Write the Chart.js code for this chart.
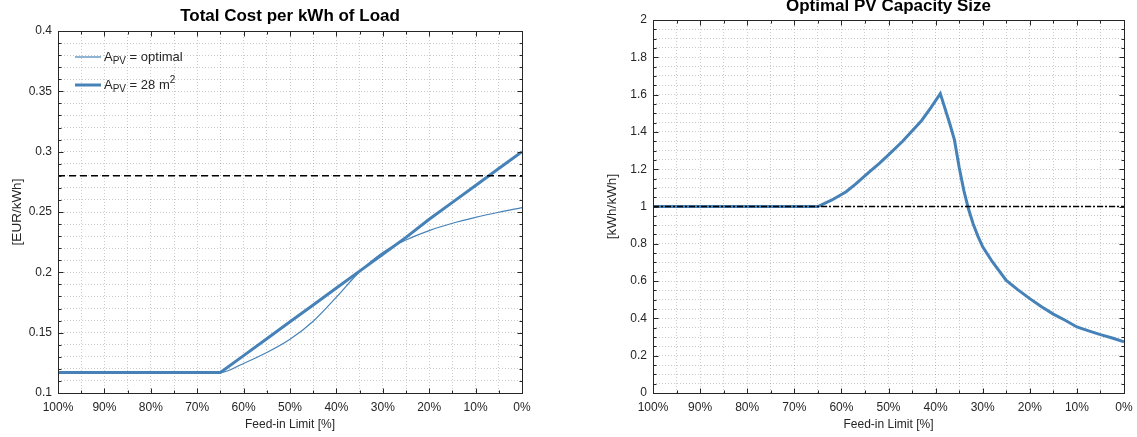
<!DOCTYPE html>
<html>
<head>
<meta charset="utf-8">
<script src="https://cdn.jsdelivr.net/npm/chart.js@4.4.1/dist/chart.umd.min.js"></script>
<style>
    html, body { margin: 0; padding: 0; background: #ffffff; }
    #left { position: absolute; left: 0; top: 0; }
    #right { position: absolute; left: 568px; top: 0; }
</style>
</head>
<body>
<canvas id="left" width="568" height="437"></canvas>
<canvas id="right" width="569" height="437"></canvas>
<script>
// feed-in limit in percent
const feedIn = [100, 95, 90, 85, 80, 75, 70, 65, 60, 55, 50, 45, 40, 35, 30, 25, 20, 15, 10, 5, 0]
const costOptimal = [0.117, 0.117, 0.117, 0.117, 0.117, 0.117, 0.117, 0.117, 0.1245, 0.1335, 0.1445, 0.1595, 0.1795, 0.2005, 0.2165, 0.2268, 0.2346, 0.2407, 0.2456, 0.2498, 0.2536]
const cost28 = [0.117, 0.117, 0.117, 0.117, 0.117, 0.117, 0.117, 0.117, 0.131, 0.145, 0.159, 0.173, 0.187, 0.201, 0.215, 0.229, 0.244, 0.258, 0.272, 0.286, 0.300]
const costLimit = 0.28

const ratioFeedIn = [100, 95, 90, 85, 80, 75, 70, 65, 62, 59, 57, 54, 52, 50, 47, 45, 43, 41, 39, 37, 36, 35, 34, 33, 32, 31, 30, 28, 25, 22.5, 20, 17.5, 15, 12.5, 10, 7.5, 5, 2.5, 0]
const ratioOptimal = [1, 1, 1, 1, 1, 1, 1, 1, 1.035, 1.079, 1.12, 1.187, 1.23, 1.277, 1.35, 1.405, 1.46, 1.53, 1.605, 1.445, 1.357, 1.21, 1.085, 0.985, 0.905, 0.84, 0.784, 0.705, 0.604, 0.553, 0.506, 0.463, 0.423, 0.39, 0.354, 0.333, 0.313, 0.295, 0.275]
const ratioRef = 1

const xMajorTicks = [100, 90, 80, 70, 60, 50, 40, 30, 20, 10, 0]
const costMajorTicks = [0.1, 0.15, 0.2, 0.25, 0.3, 0.35, 0.4]
const ratioMajorTicks = [0, 0.2, 0.4, 0.6, 0.8, 1, 1.2, 1.4, 1.6, 1.8, 2]

const lineBlue = "#4682b8"
const textColor = "#262626"
const fontFamily = "'Liberation Sans', Arial, Helvetica, sans-serif"

function isMajor(list, v) {
    return list.some((m) => Math.abs(m - v) < 1e-6)
}

function pairs(xs, ys) {
    return xs.map((x, i) => ({ x: x, y: ys[i] }))
}

// box round the plot area and inward tick marks on all four sides
const axesBox = {
    id: "axesBox",
    afterDatasetsDraw(chart, args, opts) {
        const { ctx, chartArea: a, scales } = chart
        const L = Math.round(a.left) + 0.5
        const R = Math.round(a.right) + 0.5
        const T = Math.round(a.top) + 0.5
        const B = Math.round(a.bottom) + 0.5
        ctx.save()
        ctx.strokeStyle = textColor
        ctx.lineWidth = 1
        ctx.setLineDash([])
        ctx.beginPath()
        scales.x.ticks.forEach((t) => {
            const px = Math.round(scales.x.getPixelForValue(t.value)) + 0.5
            const len = isMajor(xMajorTicks, t.value) ? 5 : 3
            ctx.moveTo(px, B); ctx.lineTo(px, B - len)
            ctx.moveTo(px, T); ctx.lineTo(px, T + len)
        })
        scales.y.ticks.forEach((t) => {
            const py = Math.round(scales.y.getPixelForValue(t.value)) + 0.5
            const len = isMajor(opts.yMajor, t.value) ? 5 : 3
            ctx.moveTo(L, py); ctx.lineTo(L + len, py)
            ctx.moveTo(R, py); ctx.lineTo(R - len, py)
        })
        ctx.stroke()
        ctx.strokeRect(L, T, R - L, B - T)
        ctx.restore()
    },
}

// legend with sub- and superscripts
const subLegend = {
    id: "subLegend",
    afterDraw(chart, args, opts) {
        if (!opts.items) return
        const { ctx, chartArea: a } = chart
        ctx.save()
        opts.items.forEach((item, i) => {
            const y = a.top + 26 + i * 28
            const x0 = a.left + 17
            ctx.strokeStyle = lineBlue
            ctx.lineWidth = item.width
            ctx.beginPath()
            ctx.moveTo(x0, y)
            ctx.lineTo(x0 + 26, y)
            ctx.stroke()
            let x = x0 + 29
            ctx.fillStyle = textColor
            ctx.textBaseline = "middle"
            item.parts.forEach((p) => {
                const size = p.kind === "normal" ? 13 : 10
                const dy = p.kind === "sub" ? 4.5 : p.kind === "sup" ? -5 : 0
                ctx.font = `${size}px ${fontFamily}`
                ctx.fillText(p.text, x, y + dy)
                x += ctx.measureText(p.text).width
            })
        })
        ctx.restore()
    },
}

function makeChart(canvas, cfg) {
    return new Chart(canvas, {
        type: "line",
        data: { datasets: cfg.datasets },
        options: {
            responsive: false,
            animation: false,
            layout: { padding: { left: 0, right: cfg.padRight, top: 0, bottom: 0 } },
            elements: { point: { radius: 0 } },
            plugins: {
                legend: { display: false },
                tooltip: { enabled: false },
                title: {
                    display: true,
                    fullSize: false,
                    text: cfg.title,
                    color: "#000000",
                    font: { family: fontFamily, size: 17, weight: "bold" },
                    padding: cfg.titlePad,
                },
                axesBox: { yMajor: cfg.yMajor },
                subLegend: { items: cfg.legend },
            },
            scales: {
                x: {
                    type: "linear",
                    reverse: true,
                    min: 0,
                    max: 100,
                    afterFit(scale) { scale.height = 44 },
                    afterBuildTicks(scale) {
                        scale.ticks = []
                        for (let v = 0; v <= 100; v += 5) scale.ticks.push({ value: v })
                    },
                    ticks: {
                        autoSkip: false,
                        maxRotation: 0,
                        padding: 7,
                        color: textColor,
                        font: { family: fontFamily, size: 12 },
                        callback(v) { return isMajor(xMajorTicks, v) ? `${v}%` : "" },
                    },
                    grid: { color: "rgba(0,0,0,0.2)", drawTicks: false, lineWidth: 1 },
                    border: { display: false, dash: [1, 2] },
                    title: {
                        display: true,
                        text: "Feed-in Limit [%]",
                        color: textColor,
                        font: { family: fontFamily, size: 12 },
                        padding: { top: 0, bottom: 5 },
                    },
                },
                y: {
                    type: "linear",
                    min: cfg.yMin,
                    max: cfg.yMax,
                    afterFit(scale) { scale.width = cfg.yWidth },
                    afterBuildTicks(scale) {
                        scale.ticks = []
                        const n = Math.round((cfg.yMax - cfg.yMin) / cfg.yStep)
                        for (let i = 0; i <= n; i++) scale.ticks.push({ value: +(cfg.yMin + i * cfg.yStep).toFixed(4) })
                    },
                    ticks: {
                        autoSkip: false,
                        padding: 6,
                        color: textColor,
                        font: { family: fontFamily, size: 12 },
                        callback(v) { return isMajor(cfg.yMajor, v) ? String(+v.toFixed(2)) : "" },
                    },
                    grid: { color: "rgba(0,0,0,0.2)", drawTicks: false, lineWidth: 1 },
                    border: { display: false, dash: [1, 2] },
                    title: {
                        display: true,
                        text: cfg.yTitle,
                        color: textColor,
                        font: { family: fontFamily, size: 13.5 },
                        padding: { top: cfg.yTitlePad, bottom: 0 },
                    },
                },
            },
        },
        plugins: [axesBox, subLegend],
    })
}

makeChart(document.getElementById("left"), {
    title: "Total Cost per kWh of Load",
    titlePad: { top: 5.8, bottom: 4.8 },
    padRight: 46,
    yWidth: 58,
    yTitlePad: 8.9,
    yTitle: "[EUR/kWh]",
    yMin: 0.1,
    yMax: 0.4,
    yStep: 0.01,
    yMajor: costMajorTicks,
    legend: [
        { width: 1.2, parts: [{ kind: "normal", text: "A" }, { kind: "sub", text: "PV" }, { kind: "normal", text: " = optimal" }] },
        { width: 3, parts: [{ kind: "normal", text: "A" }, { kind: "sub", text: "PV" }, { kind: "normal", text: " = 28 m" }, { kind: "sup", text: "2" }] },
    ],
    datasets: [
        {
            label: "limit",
            data: [{ x: 100, y: costLimit }, { x: 0, y: costLimit }],
            borderColor: "#000000",
            borderWidth: 1.4,
            borderDash: [7, 4],
        },
        {
            label: "A_PV = 28 m2",
            data: pairs(feedIn, cost28),
            borderColor: lineBlue,
            borderWidth: 3,
        },
        {
            label: "A_PV = optimal",
            data: pairs(feedIn, costOptimal),
            borderColor: lineBlue,
            borderWidth: 1.2,
            cubicInterpolationMode: "monotone",
        },
    ],
})

makeChart(document.getElementById("right"), {
    title: "Optimal PV Capacity Size",
    titlePad: { top: -4.2, bottom: 3.8 },
    padRight: 13,
    yWidth: 85,
    yTitlePad: 35.9,
    yTitle: "[kWh/kWh]",
    yMin: 0,
    yMax: 2,
    yStep: 0.05,
    yMajor: ratioMajorTicks,
    legend: null,
    datasets: [
        {
            label: "reference",
            data: [{ x: 100, y: ratioRef }, { x: 0, y: ratioRef }],
            borderColor: "#000000",
            borderWidth: 1.3,
            borderDash: [6, 2, 2, 2],
        },
        {
            label: "optimal",
            data: pairs(ratioFeedIn, ratioOptimal),
            borderColor: lineBlue,
            borderWidth: 3,
        },
    ],
})
</script>
</body>
</html>
